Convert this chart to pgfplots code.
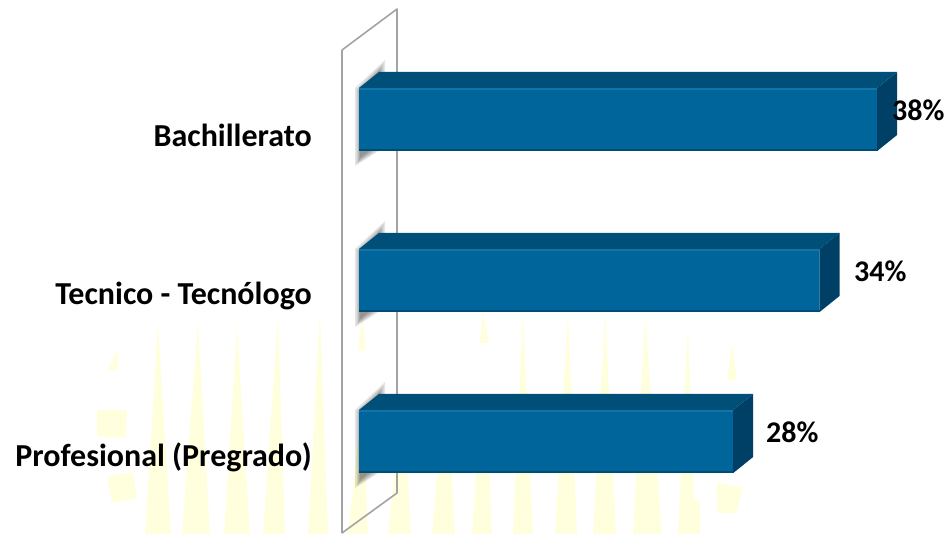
\documentclass[border=0pt]{standalone}
\usepackage{fontspec}
\setmainfont{Carlito}
\usepackage{pgfplots}
\usepackage{pgfplotstable}
\pgfplotsset{compat=1.18}

\definecolor{barfront}{HTML}{00659B}
\definecolor{bartop}{HTML}{004F78}
\definecolor{barside}{HTML}{003F66}
\definecolor{barlight}{HTML}{1275A8}
\definecolor{bardark}{HTML}{004C72}
\definecolor{wall}{HTML}{A3A3A3}
\definecolor{mark}{HTML}{FFFFDE}

% grey shadow behind the left end of a bar, in picture pixels, one x/y pair per layer
\pgfplotstableread{
xa ya xb yb xc yc xd yd xe ye
355 88 356.5 89 358 90 359 90 360 90
385 60 383.5 63 382 66 380.5 69 379 72
385 147 383.5 146 382 145 380.5 144 379 143
355 166 356.5 164 358 162 359 160 360 158
355 88 356.5 89 358 90 359 90 360 90
}\shadow

\begin{document}
\begin{tikzpicture}
\useasboundingbox (0,0) rectangle (947pt,534pt);

% backdrop: watermark, wall and shadows, axis in picture pixels
\begin{axis}[
    at={(0,0)}, anchor=south west,
    scale only axis, width=947pt, height=534pt,
    xmin=0, xmax=947, ymin=0, ymax=534, y dir=reverse,
    hide axis,
]
\addplot[fill=mark, draw=none] coordinates {(158,322) (145,534) (171,534)};
\addplot[fill=mark, draw=none] coordinates {(198,322) (182,534) (210,534)};
\addplot[fill=mark, draw=none] coordinates {(237,325) (224,534) (250,534)};
\addplot[fill=mark, draw=none] coordinates {(278,315) (263,534) (285,534)};
\addplot[fill=mark, draw=none] coordinates {(320,310) (308,534) (328,534)};
\addplot[fill=mark, draw=none] coordinates {(362,315) (358,350) (366,350)};
\addplot[fill=mark, draw=none] coordinates {(358,440) (348,534) (368,534) (364,440)};
\addplot[fill=mark, draw=none] coordinates {(398,440) (388,534) (411,534) (406,440)};
\addplot[fill=mark, draw=none] coordinates {(440,440) (432,534) (455,534) (450,440)};
\addplot[fill=mark, draw=none] coordinates {(483,312) (480,343) (489,343)};
\addplot[fill=mark, draw=none] coordinates {(478,440) (472,534) (492,534) (488,440)};
\addplot[fill=mark, draw=none] coordinates {(523,312) (513,534) (533,534)};
\addplot[fill=mark, draw=none] coordinates {(568,312) (555,534) (577,534)};
\addplot[fill=mark, draw=none] coordinates {(605,312) (593,534) (616,534)};
\addplot[fill=mark, draw=none] coordinates {(645,318) (633,534) (662,534)};
\addplot[fill=mark, draw=none] coordinates {(688,322) (678,534) (700,534) (700,500) (694,500)};
\addplot[fill=mark, draw=none] coordinates {(732,343) (727,380) (737,380)};
\addplot[fill=mark, draw=none] coordinates {(118,348) (108,370) (118,370)};
\addplot[fill=mark, draw=none] coordinates {(97,410) (127,410) (126,438) (97,436)};
\addplot[fill=mark, draw=none] coordinates {(107,477) (133,472) (137,498) (112,503)};
\addplot[fill=mark, draw=none] coordinates {(717,482) (743,488) (736,513) (717,513)};

\addplot[draw=wall, line width=1.6pt, line join=round] coordinates {
  (342,50) (397,9) (397,493) (342,533) (342,50)
};

\pgfplotsinvokeforeach{0,161,322}{
  \addplot[fill=black, fill opacity=0.1, draw=none] table[x=xa, y expr=\thisrow{ya}+#1] {\shadow};
  \addplot[fill=black, fill opacity=0.1, draw=none] table[x=xb, y expr=\thisrow{yb}+#1] {\shadow};
  \addplot[fill=black, fill opacity=0.1, draw=none] table[x=xc, y expr=\thisrow{yc}+#1] {\shadow};
  \addplot[fill=black, fill opacity=0.1, draw=none] table[x=xd, y expr=\thisrow{yd}+#1] {\shadow};
  \addplot[fill=black, fill opacity=0.1, draw=none] table[x=xe, y expr=\thisrow{ye}+#1] {\shadow};
}
\end{axis}

% the bars, the axis starts at the wall (2%)
\begin{axis}[
    at={(359pt,0)}, anchor=south west,
    scale only axis, width=588pt, height=534pt,
    xmin=2.014, xmax=42.85, ymin=-0.5745, ymax=2.742,
    hide x axis,
    axis y line*=left,
    y axis line style={draw=none},
    major tick length=0pt,
    ytick={0,1,2},
    yticklabels={Profesional (Pregrado),Tecnico - Tecnólogo,Bachillerato},
    yticklabel style={inner sep=0pt, xshift=-47pt, yshift=-16pt,
        font=\bfseries\fontsize{32}{32}\selectfont},
]
\addplot[xbar, bar width=63pt, bar shift=0pt, fill=barfront, draw=none]
    coordinates {(28,0) (34,1) (38,2)};

% top faces
\addplot[fill=bartop, draw=none] coordinates {(2.014,0.196) (3.40,0.295) (29.39,0.295) (28,0.196)};
\addplot[fill=bartop, draw=none] coordinates {(2.014,1.196) (3.40,1.295) (35.39,1.295) (34,1.196)};
\addplot[fill=bartop, draw=none] coordinates {(2.014,2.196) (3.40,2.295) (39.39,2.295) (38,2.196)};
% side faces
\addplot[fill=barside, draw=none] coordinates {(28,0.196) (29.39,0.295) (29.39,-0.096) (28,-0.196)};
\addplot[fill=barside, draw=none] coordinates {(34,1.196) (35.39,1.295) (35.39,0.904) (34,0.804)};
\addplot[fill=barside, draw=none] coordinates {(38,2.196) (39.39,2.295) (39.39,1.904) (38,1.804)};
% bevel along the front edges
\addplot[draw=barlight, line width=2pt] coordinates {(2.014,0.187) (28,0.187)};
\addplot[draw=barlight, line width=2pt] coordinates {(2.014,1.187) (34,1.187)};
\addplot[draw=barlight, line width=2pt] coordinates {(2.014,2.187) (38,2.187)};
\addplot[draw=bardark, line width=2pt] coordinates {(2.014,-0.190) (28,-0.190)};
\addplot[draw=bardark, line width=2pt] coordinates {(2.014,0.810) (34,0.810)};
\addplot[draw=bardark, line width=2pt] coordinates {(2.014,1.810) (38,1.810)};

% value labels
\addplot[draw=none, mark=none, point meta=explicit symbolic,
    nodes near coords,
    nodes near coords style={anchor=west, inner sep=0pt, yshift=9pt, text=black,
        font=\bfseries\fontsize{30}{30}\selectfont},
] coordinates {(30.28,0) [28\%] (36.39,1) [34\%] (39.03,2) [38\%]};
\end{axis}
\end{tikzpicture}
\end{document}
